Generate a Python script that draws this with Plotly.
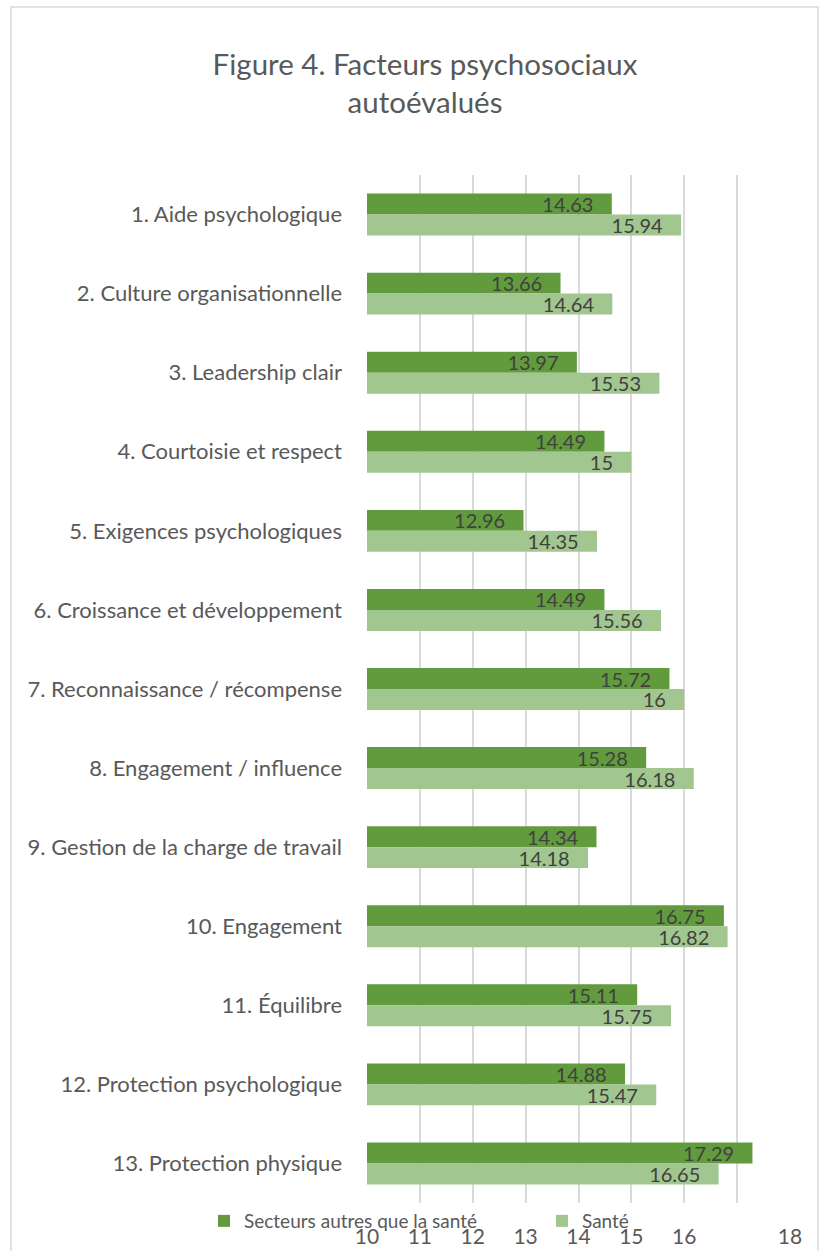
import plotly.graph_objects as go

categories = [
    "1. Aide psychologique",
    "2. Culture organisationnelle",
    "3. Leadership clair",
    "4. Courtoisie et respect",
    "5. Exigences psychologiques",
    "6. Croissance et développement",
    "7. Reconnaissance / récompense",
    "8. Engagement / influence",
    "9. Gestion de la charge de travail",
    "10. Engagement",
    "11. Équilibre",
    "12. Protection psychologique",
    "13. Protection physique",
]
autres = [14.63, 13.66, 13.97, 14.49, 12.96, 14.49, 15.72, 15.28, 14.34, 16.75, 15.11, 14.88, 17.29]
sante = [15.94, 14.64, 15.53, 15.00, 14.35, 15.56, 16.00, 16.18, 14.18, 16.82, 15.75, 15.47, 16.65]
tick_vals = [10, 11, 12, 13, 14, 15, 16, 18]
tick_text = ["10", "11", "12", "13", "14", "15", "16", "18"]

W, H = 822, 1251
ML, MR, MT, MB = 367, 32, 175, 48
pw = W - ML - MR
ph = H - MT - MB

def px_x(x):
    return (x - ML) / pw

def px_y(y):
    return (H - MB - y) / ph

FONT = "Lato"
fig = go.Figure()
fig.add_trace(go.Bar(
    y=categories, x=autres, orientation="h",
    name="Secteurs autres que la santé", legend="legend",
    marker=dict(color="#629B3D", line=dict(width=0)),
    texttemplate="%{x}\u00a0\u00a0\u00a0", textposition="inside", insidetextanchor="end",
    constraintext="none",
    textfont=dict(family=FONT, size=20, color="#404040"),
))
fig.add_trace(go.Bar(
    y=categories, x=sante, orientation="h",
    name="Santé", legend="legend2",
    marker=dict(color="#A2C68F", line=dict(width=0)),
    texttemplate="%{x}\u00a0\u00a0\u00a0", textposition="inside", insidetextanchor="end",
    constraintext="none",
    textfont=dict(family=FONT, size=20, color="#404040"),
))

legend_common = dict(
    orientation="h", xanchor="left", y=px_y(1202), yanchor="top",
    font=dict(family=FONT, size=19, color="#595959"),
    bgcolor="rgba(0,0,0,0)", itemwidth=30,
)

fig.update_layout(
    width=W, height=H,
    margin=dict(l=ML, r=MR, t=MT, b=MB, autoexpand=False),
    paper_bgcolor="white", plot_bgcolor="white",
    barmode="group", bargap=0.47, bargroupgap=0,
    font=dict(family=FONT, color="#595959"),
    title=dict(
        text="Figure 4. Facteurs psychosociaux<br>autoévalués",
        x=(425) / W, xanchor="center", y=1 - 75 / H, yanchor="top",
        font=dict(family=FONT, size=29.5, color="#595959"),
    ),
    legend=dict(x=px_x(204), **legend_common),
    legend2=dict(x=px_x(542), **legend_common),
    showlegend=True,
)
fig.update_xaxes(
    range=[10, 18], tickmode="array", tickvals=tick_vals, ticktext=tick_text,
    showgrid=True, gridcolor="#D9D9D9", gridwidth=1.5,
    minor=dict(dtick=1, tick0=10, showgrid=True, gridcolor="#D9D9D9", gridwidth=1.5),
    zeroline=False, showline=False,
    tickfont=dict(family=FONT, size=21, color="#595959"),
    ticks="", ticklabelstandoff=19,
    fixedrange=True,
)
fig.update_yaxes(
    autorange="reversed", showgrid=False, zeroline=False, showline=False,
    tickfont=dict(family=FONT, size=22, color="#595959"),
    ticks="", ticklabelstandoff=24,
)
fig.add_shape(
    type="rect", xref="paper", yref="paper",
    x0=px_x(11), x1=px_x(818), y0=px_y(1265), y1=px_y(7),
    line=dict(color="#D9D9D9", width=1.5), fillcolor="rgba(0,0,0,0)", layer="below",
)
fig.write_html("out.html")
